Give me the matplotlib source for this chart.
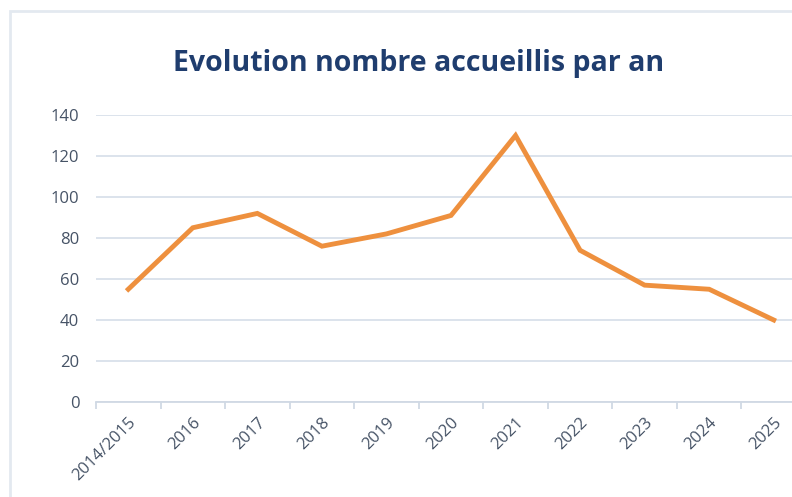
import matplotlib.pyplot as plt
from matplotlib.patches import Rectangle

# data
years = ['2014/2015', '2016', '2017', '2018', '2019', '2020',
         '2021', '2022', '2023', '2024', '2025']
accueillis = [55, 85, 92, 76, 82, 91, 130, 74, 57, 55, 40]

W, H = 792, 497
fig = plt.figure(figsize=(W / 100, H / 100), dpi=100)
fig.patch.set_facecolor('white')

# light chart frame (the screenshot is cropped on the right / bottom)
fig.patches.append(Rectangle((10 / W, -0.05), 1.1, 1 - 11 / H + 0.05,
                             transform=fig.transFigure, fill=False,
                             edgecolor='#e3e9f0', linewidth=2))

left, right = 96 / W, 806 / W
bottom, top = 1 - 402 / H, 1 - 115 / H
ax = fig.add_axes([left, bottom, right - left, top - bottom])

x = list(range(len(years)))
ax.plot(x, accueillis, color='#ee903e', linewidth=3.5,
        solid_joinstyle='miter', zorder=3)

ax.set_xlim(-0.5, len(years) - 0.5)
ax.set_ylim(0, 140)
ax.set_yticks(range(0, 141, 20))
ax.grid(axis='y', color='#d9e1ea', linewidth=1.3)
ax.set_axisbelow(True)

for s in ['top', 'right', 'left']:
    ax.spines[s].set_visible(False)
ax.spines['bottom'].set_color('#d0d9e4')
ax.spines['bottom'].set_linewidth(1.3)

ax.set_xticks(x)
ax.set_xticklabels(years, rotation=45, ha='right', rotation_mode='anchor')
ax.set_xticks([i - 0.5 for i in range(len(years) + 1)], minor=True)
ax.tick_params(axis='x', which='major', length=0, pad=9,
               labelsize=12, labelcolor='#465366')
ax.tick_params(axis='x', which='minor', length=5, color='#d0d9e4', width=1.3)
ax.tick_params(axis='y', length=0, pad=12, labelsize=12, labelcolor='#465366')

for lab in ax.get_xticklabels() + ax.get_yticklabels():
    lab.set_family(['Open Sans', 'DejaVu Sans'])

fig.text(419 / W, 1 - 63 / H, 'Evolution nombre accueillis par an',
         ha='center', va='center', fontsize=20.5, fontweight='bold',
         color='#1f3d6e', family=['Open Sans', 'DejaVu Sans'])

fig.savefig('out.png', dpi=100)
